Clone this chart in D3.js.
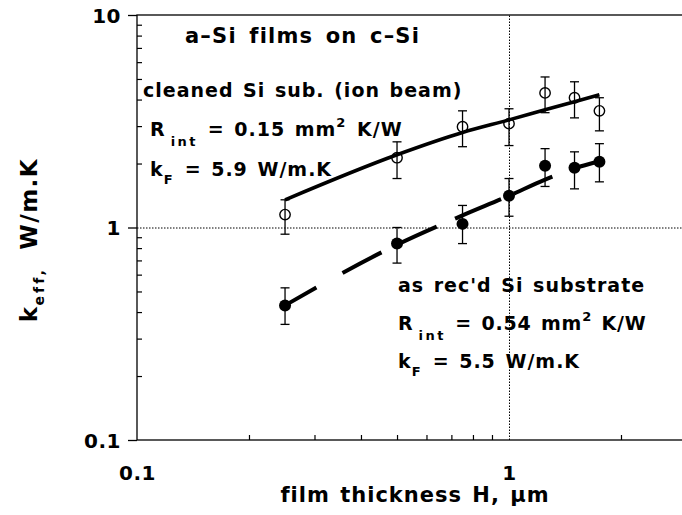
<!DOCTYPE html>
<html>
<head>
<meta charset="utf-8">
<script src="https://cdn.jsdelivr.net/npm/d3@7"></script>
<style>
  body { margin: 0; background: #fff; }
  svg { display: block; }
  text { font-family: "DejaVu Sans", "Liberation Sans", Arial, sans-serif; font-weight: bold; fill: #000; }
</style>
</head>
<body>
<svg id="chart" width="682" height="515"></svg>
<script>
// Film thickness H (μm)
const thickness = [0.25, 0.5, 0.75, 1.0, 1.25, 1.5, 1.75];

// Ion-beam cleaned Si substrate: measured k_eff (W/m.K) with error range
const cleanedK    = [1.15, 2.13, 2.98, 3.08, 4.30, 4.08, 3.54];
const cleanedHigh = [1.35, 2.53, 3.54, 3.62, 5.11, 4.85, 4.08];
const cleanedLow  = [0.93, 1.70, 2.40, 2.43, 3.47, 3.28, 2.85];
const cleanedFit  = [1.35, 2.20, 2.80, 3.21, 3.58, 3.91, 4.21];

// As-received Si substrate: measured k_eff (W/m.K) with error range
const recdK    = [0.43, 0.84, 1.04, 1.41, 1.95, 1.91, 2.04];
const recdHigh = [0.52, 1.00, 1.27, 1.70, 2.35, 2.27, 2.48];
const recdLow  = [0.35, 0.68, 0.84, 1.13, 1.56, 1.52, 1.64];
const recdFit  = [0.43, 0.83, 1.14, 1.41, 1.68, 1.90, 2.05];

// Axis ticks and labels
const xMajor = [0.1, 1];
const xMinor = [0.2, 0.3, 0.4, 0.5, 0.6, 0.7, 0.8, 0.9, 2];
const yMajor = [0.1, 1, 10];
const yMinor = [0.2, 0.3, 0.4, 0.5, 0.6, 0.7, 0.8, 0.9, 2, 3, 4, 5, 6, 7, 8, 9];
const xTickLabels = ["0.1", "1"];
const yTickLabels = ["0.1", "1", "10"];

const svg = d3.select("#chart");
const plot = { left: 137, right: 686.5, top: 15, bottom: 440 };

const x = d3.scaleLog().domain([0.1, 3]).range([plot.left, plot.right]);
const y = d3.scaleLog().domain([0.1, 10]).range([plot.bottom, plot.top]);

// Dotted reference lines at H = 1 and k_eff = 1
const vGrid = svg.append("g")
  .attr("transform", `translate(0,${plot.bottom})`)
  .call(d3.axisBottom(x).tickValues([1]).tickSize(-(plot.bottom - plot.top)).tickFormat(""));
vGrid.select(".domain").remove();
vGrid.selectAll("line").attr("stroke-dasharray", "1.5,1.5").attr("stroke-width", 1);

const hGrid = svg.append("g")
  .attr("transform", `translate(${plot.left},0)`)
  .call(d3.axisLeft(y).tickValues([1]).tickSize(-(plot.right - plot.left)).tickFormat(""));
hGrid.select(".domain").remove();
hGrid.selectAll("line").attr("stroke-dasharray", "1.5,1.5").attr("stroke-width", 1);

// Frame (right side falls beyond the visible area)
svg.append("rect")
  .attr("x", plot.left).attr("y", plot.top)
  .attr("width", plot.right - plot.left).attr("height", plot.bottom - plot.top)
  .attr("fill", "none").attr("stroke", "#000").attr("stroke-width", 1.3);

// Minor ticks pointing inward
const xMinorAxis = svg.append("g")
  .attr("transform", `translate(0,${plot.bottom})`)
  .call(d3.axisBottom(x).tickValues(xMinor).tickSize(-5).tickFormat(""));
xMinorAxis.select(".domain").remove();
xMinorAxis.selectAll("line").attr("stroke-width", 1.2);

const yMinorAxis = svg.append("g")
  .attr("transform", `translate(${plot.left},0)`)
  .call(d3.axisLeft(y).tickValues(yMinor).tickSize(-5).tickFormat(""));
yMinorAxis.select(".domain").remove();
yMinorAxis.selectAll("line").attr("stroke-width", 1.2);

// Major ticks and labels
const xAxis = svg.append("g")
  .attr("transform", `translate(0,${plot.bottom})`)
  .call(d3.axisBottom(x).tickValues(xMajor).tickSize(0).tickPadding(40)
    .tickFormat((d, i) => xTickLabels[i]));
xAxis.select(".domain").remove();
xAxis.selectAll("text").attr("font-size", 20).attr("letter-spacing", 0.5).attr("dy", 0);

const yAxis = svg.append("g")
  .attr("transform", `translate(${plot.left},0)`)
  .call(d3.axisLeft(y).tickValues(yMajor).tickSize(9).tickPadding(7)
    .tickFormat((d, i) => yTickLabels[i]));
yAxis.select(".domain").remove();
yAxis.selectAll("line").attr("stroke-width", 1.3);
yAxis.selectAll("text").attr("font-size", 20).attr("letter-spacing", 0.5).attr("dy", "0.36em");

// Axis titles
svg.append("text")
  .attr("x", 415).attr("y", 502)
  .attr("text-anchor", "middle")
  .attr("font-size", 21).attr("letter-spacing", 1).attr("word-spacing", 2)
  .text("film thickness H, μm");

const yTitle = svg.append("text")
  .attr("transform", "translate(37,240) rotate(-90)")
  .attr("text-anchor", "middle")
  .attr("font-size", 23).attr("letter-spacing", 1.5).attr("word-spacing", 8);
yTitle.append("tspan").text("k");
yTitle.append("tspan").attr("font-size", 14).attr("letter-spacing", 3).attr("dy", 7).text("eff,");
yTitle.append("tspan").attr("dy", -7).text(" W/m.K");

// Fitted model curves
const line = d3.line()
  .x((d, i) => x(thickness[i]))
  .y(d => y(d))
  .curve(d3.curveMonotoneX);

svg.append("path")
  .attr("d", line(cleanedFit))
  .attr("fill", "none").attr("stroke", "#000").attr("stroke-width", 3.6);

svg.append("path")
  .attr("d", line(recdFit))
  .attr("fill", "none").attr("stroke", "#000").attr("stroke-width", 4)
  .attr("stroke-dasharray", "36,30,44,13,48,20,50,14,42,20,40");

// Error bars
function errorBars(lo, hi) {
  const g = svg.append("g").attr("stroke", "#000").attr("stroke-width", 1.3);
  thickness.forEach((h, i) => {
    const cx = x(h);
    g.append("line").attr("x1", cx).attr("x2", cx).attr("y1", y(lo[i])).attr("y2", y(hi[i]));
    g.append("line").attr("x1", cx - 4.5).attr("x2", cx + 4.5).attr("y1", y(lo[i])).attr("y2", y(lo[i]));
    g.append("line").attr("x1", cx - 4.5).attr("x2", cx + 4.5).attr("y1", y(hi[i])).attr("y2", y(hi[i]));
  });
}
errorBars(cleanedLow, cleanedHigh);
errorBars(recdLow, recdHigh);

// Data points
svg.append("g").selectAll("circle").data(cleanedK).join("circle")
  .attr("cx", (d, i) => x(thickness[i])).attr("cy", d => y(d)).attr("r", 5.2)
  .attr("fill", "none").attr("stroke", "#000").attr("stroke-width", 1.4);

svg.append("g").selectAll("circle").data(recdK).join("circle")
  .attr("cx", (d, i) => x(thickness[i])).attr("cy", d => y(d)).attr("r", 6)
  .attr("fill", "#000");

// Annotations
function label(xPos, yPos, parts, size, ls, ws) {
  const t = svg.append("text").attr("x", xPos).attr("y", yPos)
    .attr("font-size", size || 19).attr("letter-spacing", ls == null ? 1 : ls).attr("word-spacing", ws == null ? 2 : ws);
  parts.forEach(p => {
    const s = t.append("tspan").text(p.t);
    if (p.sub) s.attr("font-size", 13).attr("letter-spacing", 2.5).attr("dy", p.sub).attr("dx", p.dx || 0);
    if (p.sup) s.attr("font-size", 13).attr("dy", -p.sup).attr("dx", p.dx || 0);
    if (p.back) s.attr("dy", p.back).attr("dx", p.dx || 0);
  });
}

label(185, 43, [{ t: "a–Si films on c–Si" }], 21, 1.2, 4);
label(143, 97, [{ t: "cleaned Si sub. (ion beam)" }]);
label(150, 136, [{ t: "R" }, { t: "int", sub: 10, dx: 5 }, { t: " = 0.15 mm", back: -10 }, { t: "2", sup: 9 }, { t: " K/W", back: 9, dx: 1 }]);
label(150, 176, [{ t: "k" }, { t: "F", sub: 8, dx: 0 }, { t: " = 5.9 W/m.K", back: -8 }]);

label(398, 292, [{ t: "as rec'd Si substrate" }]);
label(398, 330, [{ t: "R" }, { t: "int", sub: 10, dx: 5 }, { t: " = 0.54 mm", back: -10 }, { t: "2", sup: 9 }, { t: " K/W", back: 9, dx: 0 }], 19, 0.8, 2);
label(398, 368, [{ t: "k" }, { t: "F", sub: 8, dx: 0 }, { t: " = 5.5 W/m.K", back: -8 }]);
</script>
</body>
</html>
